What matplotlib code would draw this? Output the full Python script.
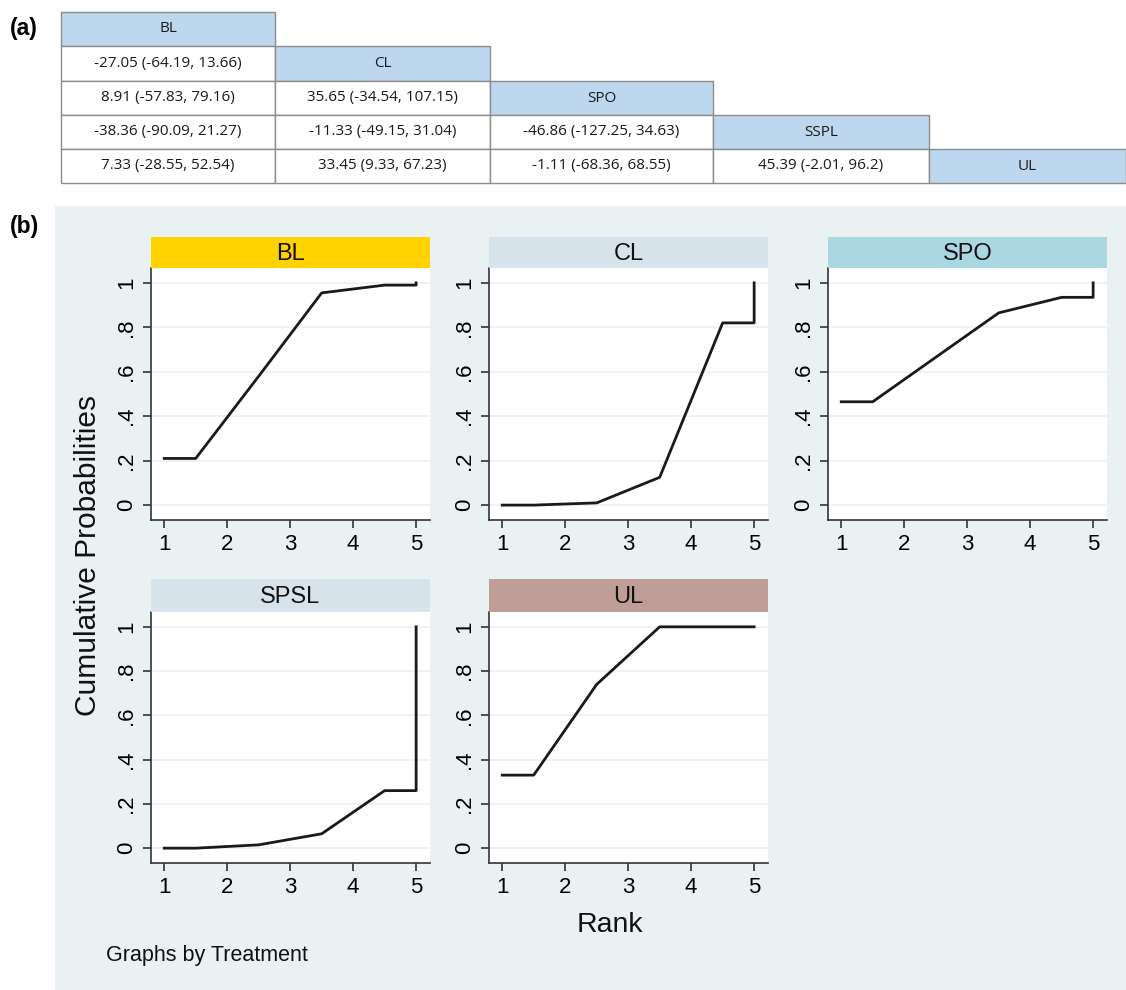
import matplotlib
matplotlib.use("Agg")
import matplotlib.pyplot as plt
from matplotlib.patches import Rectangle

W, H = 1126, 990

# ---------------- data ----------------
treatments_table = ["BL", "CL", "SPO", "SSPL", "UL"]
league_row1 = ["-27.05 (-64.19, 13.66)"]
league_row2 = ["8.91 (-57.83, 79.16)", "35.65 (-34.54, 107.15)"]
league_row3 = ["-38.36 (-90.09, 21.27)", "-11.33 (-49.15, 31.04)", "-46.86 (-127.25, 34.63)"]
league_row4 = ["7.33 (-28.55, 52.54)", "33.45 (9.33, 67.23)", "-1.11 (-68.36, 68.55)", "45.39 (-2.01, 96.2)"]
league_rows = [[], league_row1, league_row2, league_row3, league_row4]

panel_names = ["BL", "CL", "SPO", "SPSL", "UL"]
strip_colors = ["#ffd200", "#d7e3ea", "#abd7e3", "#d7e3ea", "#bf9e98"]
rank_x = [1, 1.5, 2.5, 3.5, 4.5, 5, 5]
cum_BL = [0.21, 0.21, 0.58, 0.955, 0.99, 0.99, 1.0]
cum_CL = [0.0, 0.0, 0.01, 0.125, 0.82, 0.82, 1.0]
cum_SPO = [0.465, 0.465, 0.665, 0.865, 0.935, 0.935, 1.0]
cum_SPSL = [0.0, 0.0, 0.015, 0.065, 0.26, 0.26, 1.0]
cum_UL = [0.33, 0.33, 0.74, 1.0, 1.0, 1.0, 1.0]
cum_all = [cum_BL, cum_CL, cum_SPO, cum_SPSL, cum_UL]
x_ticks = [1, 2, 3, 4, 5]
y_ticks = [0, 0.2, 0.4, 0.6, 0.8, 1.0]
y_ticklabels = ["0", ".2", ".4", ".6", ".8", "1"]

# ---------------- figure ----------------
fig = plt.figure(figsize=(W / 100, H / 100), dpi=100)
fig.patch.set_facecolor("white")


def px_axes(left, top, right, bottom, **kw):
    return fig.add_axes([left / W, 1 - bottom / H, (right - left) / W, (bottom - top) / H], **kw)


# ---------------- (a) table ----------------
tab = px_axes(0, 0, W, 200)
tab.set_xlim(0, W)
tab.set_ylim(200, 0)
tab.axis("off")
col_edges = [61, 275, 490, 713, 929, 1126]
row_edges = [12, 46, 81, 115, 149, 183]
border = "#8c8c8c"
TFS = 11
for i in range(5):
    y0, y1 = row_edges[i], row_edges[i + 1]
    for j in range(i):
        x0, x1 = col_edges[j], col_edges[j + 1]
        tab.add_patch(Rectangle((x0, y0), x1 - x0, y1 - y0, facecolor="white",
                                edgecolor=border, lw=1.0))
        tab.text((x0 + x1) / 2, (y0 + y1) / 2, league_rows[i][j], ha="center", va="center",
                 fontsize=TFS, family="Open Sans", color="#1a1a1a")
    x0, x1 = col_edges[i], col_edges[i + 1]
    tab.add_patch(Rectangle((x0, y0), x1 - x0, y1 - y0, facecolor="#bdd7ee",
                            edgecolor=border, lw=1.0))
    tab.text((x0 + x1) / 2, (y0 + y1) / 2, treatments_table[i], ha="center", va="center",
             fontsize=TFS, family="Open Sans", color="#1a1a1a")

fig.text(10 / W, 1 - 28 / H, "(a)", fontsize=16.5, fontweight="bold", family="Liberation Sans",
         ha="left", va="center")
fig.text(10 / W, 1 - 226 / H, "(b)", fontsize=16.5, fontweight="bold", family="Liberation Sans",
         ha="left", va="center")

# ---------------- (b) background ----------------
fig.patches.append(Rectangle((55 / W, 0), (W - 55) / W, (H - 206) / H,
                             transform=fig.transFigure, facecolor="#eaf1f3",
                             edgecolor="none", zorder=-10))

col_lr = [(151, 430), (489, 768), (828, 1107)]
row_tb = [(237, 268, 520), (579, 612, 863)]
positions = [(0, 0), (0, 1), (0, 2), (1, 0), (1, 1)]
FONT = "Liberation Sans"

for k, name in enumerate(panel_names):
    r, c = positions[k]
    left, right = col_lr[c]
    stop, atop, abot = row_tb[r]
    ax = px_axes(left, atop, right, abot)
    ax.set_facecolor("white")
    for yt in y_ticks:
        ax.axhline(yt, color="#eaf1f3", lw=1.2, zorder=0)
    ax.plot(rank_x, cum_all[k], color="#1a1a1a", lw=2.0, zorder=3)
    ax.set_xlim(0.79, 5.22)
    ax.set_ylim(-0.067, 1.067)
    ax.set_xticks(x_ticks)
    ax.set_xticklabels([str(t) for t in x_ticks], fontsize=16, family=FONT)
    ax.set_yticks(y_ticks)
    ax.set_yticklabels(y_ticklabels, fontsize=16, family=FONT, rotation=90, va="center")
    ax.tick_params(direction="out", length=6, width=1.2, color="#333333", pad=4)
    ax.spines["top"].set_visible(False)
    ax.spines["right"].set_visible(False)
    for s in ("left", "bottom"):
        ax.spines[s].set_color("#333333")
        ax.spines[s].set_linewidth(1.2)
    # strip
    sax = px_axes(left, stop, right, atop)
    sax.set_facecolor(strip_colors[k])
    sax.set_xticks([])
    sax.set_yticks([])
    for s in sax.spines.values():
        s.set_visible(False)
    sax.text(0.5, 0.45, name, transform=sax.transAxes, ha="center", va="center",
             fontsize=17, family=FONT, color="#111111")

fig.text(88 / W, 1 - 556 / H, "Cumulative Probabilities", rotation=90, fontsize=21.5,
         family=FONT, ha="center", va="center", color="#111111")
fig.text(610 / W, 1 - 925 / H, "Rank", fontsize=20.5, family=FONT, ha="center", va="center",
         color="#111111")
fig.text(106 / W, 1 - 956 / H, "Graphs by Treatment", fontsize=15.5, family=FONT,
         ha="left", va="center", color="#111111")

fig.savefig("out.png", dpi=100, facecolor="white")
